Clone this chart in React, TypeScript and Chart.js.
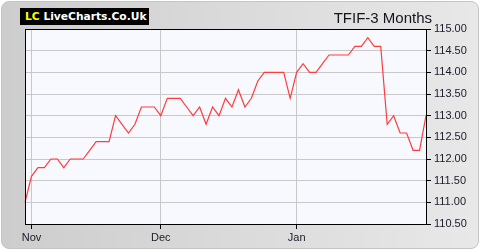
import React, { useEffect, useRef } from "react";
import { Chart, registerables } from "chart.js";

Chart.register(...registerables);

// Closing prices, one per trading day (oldest first)
const prices: number[] = [
  111.0, 111.6, 111.8, 111.8, 112.0, 112.0, 111.8, 112.0, 112.0, 112.0,
  112.2, 112.4, 112.4, 112.4, 113.0, 112.8, 112.6, 112.8, 113.2, 113.2,
  113.2, 113.0, 113.4, 113.4, 113.4, 113.2, 113.0, 113.2, 112.8, 113.2,
  113.0, 113.4, 113.2, 113.6, 113.2, 113.4, 113.8, 114.0, 114.0, 114.0,
  114.0, 113.4, 114.0, 114.2, 114.0, 114.0, 114.2, 114.4, 114.4, 114.4,
  114.4, 114.6, 114.6, 114.8, 114.6, 114.6, 112.8, 113.0, 112.6, 112.6,
  112.2, 112.2, 113.0,
];

// Month labels and the trading-day index where each month starts
const monthLabels: string[] = ["Nov", "Dec", "Jan"];
const monthIndices: number[] = [1, 21, 42];

const yMin = 110.5;
const yMax = 115.0;
const yStep = 0.5;

const title = "TFIF-3 Months";

const categories: string[] = prices.map((_, i) => {
  const k = monthIndices.indexOf(i);
  return k >= 0 ? monthLabels[k] : "";
});

const FONT = "'Liberation Sans', Arial, sans-serif";

const plotFrame = {
  id: "plotFrame",
  beforeDraw(chart: any) {
    const { ctx, chartArea: a } = chart;
    ctx.save();
    ctx.fillStyle = "#f8f9ff";
    ctx.fillRect(a.left, a.top, a.right - a.left, a.bottom - a.top);
    ctx.restore();
  },
  afterDraw(chart: any) {
    const { ctx, chartArea: a } = chart;
    ctx.save();
    ctx.strokeStyle = "#000";
    ctx.lineWidth = 1;
    ctx.strokeRect(
      Math.round(a.left) + 0.5,
      Math.round(a.top) + 0.5,
      Math.round(a.right - a.left),
      Math.round(a.bottom - a.top)
    );
    ctx.restore();
  },
};

export default function App() {
  const ref = useRef<HTMLCanvasElement | null>(null);

  useEffect(() => {
    document.body.style.margin = "0";
    const canvas = ref.current;
    if (!canvas) return;
    const chart = new Chart(canvas, {
      type: "line",
      data: {
        labels: categories,
        datasets: [
          {
            data: prices,
            borderColor: "#ff3c3c",
            borderWidth: 1.2,
            pointRadius: 0,
            tension: 0,
            fill: false,
          },
        ],
      },
      options: {
        responsive: false,
        animation: false,
        devicePixelRatio: 1,
        layout: { padding: { left: 25, top: 29, right: 0, bottom: 0 } },
        plugins: {
          legend: { display: false },
          tooltip: { enabled: false },
          title: { display: false },
        },
        scales: {
          x: {
            type: "category",
            offset: false,
            grid: {
              color: "#c8c8c8",
              lineWidth: 1,
              drawTicks: true,
              tickLength: 5,
              tickColor: "#000",
            },
            border: { display: true, color: "#000" },
            ticks: {
              autoSkip: false,
              maxRotation: 0,
              minRotation: 0,
              padding: 2,
              color: "#1a1a2a",
              font: { family: FONT, size: 11 },
              callback: (_v: any, i: number) => (categories[i] ? categories[i] : null),
            },
            afterFit: (s: any) => {
              s.height = 26;
            },
          },
          y: {
            position: "right",
            min: yMin,
            max: yMax,
            grid: {
              color: "#c8c8c8",
              lineWidth: 1,
              drawTicks: true,
              tickLength: 5,
              tickColor: "#000",
            },
            border: { display: true, color: "#000" },
            ticks: {
              stepSize: yStep,
              padding: 3,
              color: "#1a1a2a",
              font: { family: FONT, size: 11 },
              callback: (v: any) => Number(v).toFixed(2),
            },
            afterFit: (s: any) => {
              s.width = 54;
            },
          },
        },
      },
      plugins: [plotFrame],
    });
    return () => chart.destroy();
  }, []);

  return (
    <div style={{ position: "relative", width: 480, height: 250, background: "#fff" }}>
      <div
        style={{
          position: "absolute",
          left: 1,
          top: 1,
          width: 476,
          height: 246,
          borderRadius: 8,
          border: "1px solid #c4c4c4",
          background: "linear-gradient(to right, #cdcdcd, #e8e8e8)",
        }}
      />
      <canvas
        ref={ref}
        width={480}
        height={250}
        style={{ position: "absolute", left: 0, top: 0, width: 480, height: 250 }}
      />
      <div
        style={{
          position: "absolute",
          left: 20,
          top: 8,
          width: 129,
          height: 17,
          background: "#000",
          lineHeight: "17px",
          paddingLeft: 5,
          boxSizing: "border-box",
          whiteSpace: "nowrap",
          fontFamily: "'DejaVu Sans', Verdana, sans-serif",
          fontWeight: "bold",
          fontSize: 10.7,
          color: "#fff",
        }}
      >
        <span style={{ color: "#ffff00" }}>LC</span> LiveCharts.Co.Uk
      </div>
      <div
        style={{
          position: "absolute",
          right: 48,
          top: 10,
          lineHeight: "15px",
          fontFamily: FONT,
          fontSize: 15,
          color: "#151520",
          whiteSpace: "nowrap",
        }}
      >
        {title}
      </div>
    </div>
  );
}
